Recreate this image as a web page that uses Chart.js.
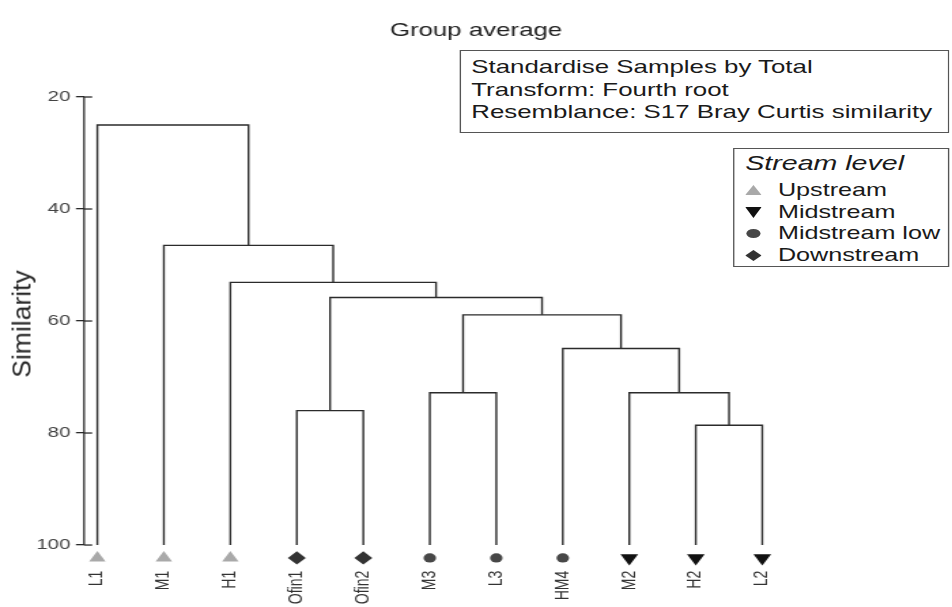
<!DOCTYPE html>
<html><head><meta charset="utf-8">
<script src="https://cdn.jsdelivr.net/npm/chart.js@4.4.1/dist/chart.umd.min.js"></script>
<style>
html,body{margin:0;padding:0;background:#fff;overflow:hidden;}
#page{position:relative;width:952px;height:607px;overflow:hidden;background:#fff;}
#stretch{position:absolute;left:0;top:0;width:700px;height:607px;transform:scaleX(1.36);transform-origin:0 0;}
#c{position:absolute;left:0;top:0;}
.box{position:absolute;border:1px solid #555;background:#fff;box-sizing:border-box;font-family:"Liberation Sans",Arial,sans-serif;color:#1a1a1a;}
.row{position:absolute;left:0;white-space:nowrap;line-height:22px;height:22px;}
#ytitle{position:absolute;left:22px;top:324px;transform:translate(-50%,-50%) rotate(-90deg);font-family:"Liberation Sans",Arial,sans-serif;font-size:26.5px;color:#2a2a2a;white-space:nowrap;}
</style>
</head><body>
<div id="page">
  <div id="stretch">
    <canvas id="c" width="700" height="607"></canvas>
    <div class="box" id="info" style="left:337.5px;top:50px;width:360px;height:83px;"></div>
    <div class="box" id="legend" style="left:539px;top:148px;width:159px;height:119px;"></div>
  </div>
  <div id="ytitle">Similarity</div>
</div>
<script>
// ---- data ----
const sampleLabels = ['L1','M1','H1','Ofin1','Ofin2','M3','L3','HM4','M2','H2','L2'];
const sampleGroups = ['Upstream','Upstream','Upstream','Downstream','Downstream','Midstream low','Midstream low','Midstream low','Midstream','Midstream','Midstream'];
const groupNames = ['Upstream','Midstream','Midstream low','Downstream'];
// merges (node ids: 0-10 leaves, 11+ clusters in merge order)
const mergeLeft  = [3, 9, 5, 8, 7, 13, 11, 2, 1, 0];
const mergeRight = [4, 10, 6, 12, 14, 15, 16, 17, 18, 19];
const mergeSimilarity = [76.0, 78.6, 72.8, 72.8, 64.9, 58.9, 55.8, 53.1, 46.5, 25.0];
const yTickValues = [20, 40, 60, 80, 100];
const infoLines = ['Standardise Samples by Total', 'Transform: Fourth root', 'Resemblance: S17 Bray Curtis similarity'];
const legendTitle = 'Stream level';

// ---- styles ----
const FONT = '"Liberation Sans", Arial, sans-serif';
const LINE_COLOR = '#2b2b2b';
const groupStyle = {
  'Upstream':      {pointStyle:'triangle', color:'#a9a9a9', radius:7,   rotation:0},
  'Midstream':     {pointStyle:'triangle', color:'#111111', radius:7.5, rotation:180},
  'Midstream low': {pointStyle:'circle',   color:'#474747', radius:4.6, rotation:0},
  'Downstream':    {pointStyle:'rectRot',  color:'#333333', radius:6.6, rotation:0}
};
const LEAF_LEVEL = 100;
const MARKER_LEVEL = 102.3;
const AXIS_MIN = 20, AXIS_MAX = 100, SCALE_MAX = 104.6;

// ---- build dendrogram segments ----
const nodeX = sampleLabels.map((_, i) => i);
const nodeH = sampleLabels.map(() => LEAF_LEVEL);
const datasets = [];
mergeLeft.forEach((l, k) => {
  const r = mergeRight[k], h = mergeSimilarity[k];
  datasets.push({
    type:'scatter', showLine:true, data:[
      {x:nodeX[l], y:nodeH[l]}, {x:nodeX[l], y:h}, {x:nodeX[r], y:h}, {x:nodeX[r], y:nodeH[r]}
    ],
    borderColor:LINE_COLOR, borderWidth:1.4, pointRadius:0, pointHoverRadius:0, tension:0, clip:false
  });
  nodeX.push((nodeX[l] + nodeX[r]) / 2);
  nodeH.push(h);
});
groupNames.forEach(g => {
  const st = groupStyle[g];
  datasets.push({
    type:'scatter', label:g,
    data: sampleLabels.map((_, i) => i).filter(i => sampleGroups[i] === g).map(i => ({x:i, y:MARKER_LEVEL})),
    pointStyle:st.pointStyle, pointRadius:st.radius, pointHoverRadius:st.radius, pointRotation:st.rotation,
    backgroundColor:st.color, borderColor:st.color, pointBorderWidth:0, clip:false
  });
});

// axis line (20..100) with ticks crossing it
const axisPlugin = {
  id:'axisPlugin',
  afterDraw(chart){
    const y = chart.scales.y, ctx = chart.ctx;
    ctx.save(); ctx.strokeStyle = LINE_COLOR; ctx.lineWidth = 1.3;
    const x0 = y.right;
    ctx.beginPath(); ctx.moveTo(x0, y.getPixelForValue(AXIS_MIN)); ctx.lineTo(x0, y.getPixelForValue(AXIS_MAX)); ctx.stroke();
    y.ticks.forEach(t => {
      const py = y.getPixelForValue(t.value);
      ctx.beginPath(); ctx.moveTo(x0, py); ctx.lineTo(x0 + 6, py); ctx.stroke();
    });
    ctx.restore();
  }
};

new Chart(document.getElementById('c'), {
  type:'scatter',
  data:{datasets},
  options:{
    responsive:false, animation:false, devicePixelRatio:1,
    layout:{padding:{left:0, right:0, top:0, bottom:0}},
    plugins:{
      legend:{display:false}, tooltip:{enabled:false},
      title:{display:true, text:'Group average', color:'#222', font:{family:FONT, size:19, weight:'normal'}, padding:{top:19.6, bottom:54.6}}
    },
    scales:{
      x:{type:'linear', min:-0.2, max:12.70,
        afterBuildTicks: s => { s.ticks = sampleLabels.map((_, i) => ({value:i})); },
        afterFit: s => { s.height = 607 - 570.8; },
        ticks:{autoSkip:false, minRotation:90, maxRotation:90, padding:0, color:'#333', font:{family:FONT, size:14},
          callback: v => sampleLabels[v]},
        grid:{display:false, drawTicks:false}, border:{display:false}
      },
      y:{type:'linear', reverse:true, min:AXIS_MIN, max:SCALE_MAX,
        afterBuildTicks: s => { s.ticks = yTickValues.map(v => ({value:v})); },
        afterFit: s => { s.width = 61.8; },
        ticks:{color:'#444', font:{family:FONT, size:15}, padding:4},
        grid:{drawOnChartArea:false, drawTicks:true, tickLength:6, color:LINE_COLOR, lineWidth:1.3},
        border:{display:false}
      }
    }
  },
  plugins:[axisPlugin]
});

// ---- info box ----
const info = document.getElementById('info');
[17, 40, 62].forEach((cy, i) => {
  const d = document.createElement('div');
  d.className = 'row'; d.style.left = '8px'; d.style.top = (cy - 11 - 1) + 'px'; d.style.fontSize = '19px';
  d.textContent = infoLines[i]; info.appendChild(d);
});
// ---- legend ----
const legend = document.getElementById('legend');
const t = document.createElement('div');
t.className = 'row'; t.style.left = '8px'; t.style.top = (15 - 11 - 1) + 'px'; t.style.fontSize = '21px'; t.style.fontStyle = 'italic';
t.textContent = legendTitle; legend.appendChild(t);
const shapes = {
  'Upstream': '<polygon points="0,10 12,10 6,0" fill="#a9a9a9"/>',
  'Midstream': '<polygon points="0,0 12,0 6,11" fill="#111"/>',
  'Midstream low': '<ellipse cx="6" cy="5.5" rx="5.2" ry="4.5" fill="#474747"/>',
  'Downstream': '<polygon points="0,5.5 6,0 12,5.5 6,11" fill="#333"/>'
};
[42, 64, 85, 107].forEach((cy, i) => {
  const g = groupNames[i];
  const m = document.createElement('div');
  m.style.position = 'absolute'; m.style.left = '8px'; m.style.top = (cy - 5.5 - 1) + 'px';
  m.innerHTML = '<svg width="12" height="11" viewBox="0 0 12 11" style="display:block">' + shapes[g] + '</svg>';
  legend.appendChild(m);
  const d = document.createElement('div');
  d.className = 'row'; d.style.left = '32px'; d.style.top = (cy - 11 - 1) + 'px'; d.style.fontSize = '18.5px';
  d.textContent = g; legend.appendChild(d);
});
</script>
</body></html>
